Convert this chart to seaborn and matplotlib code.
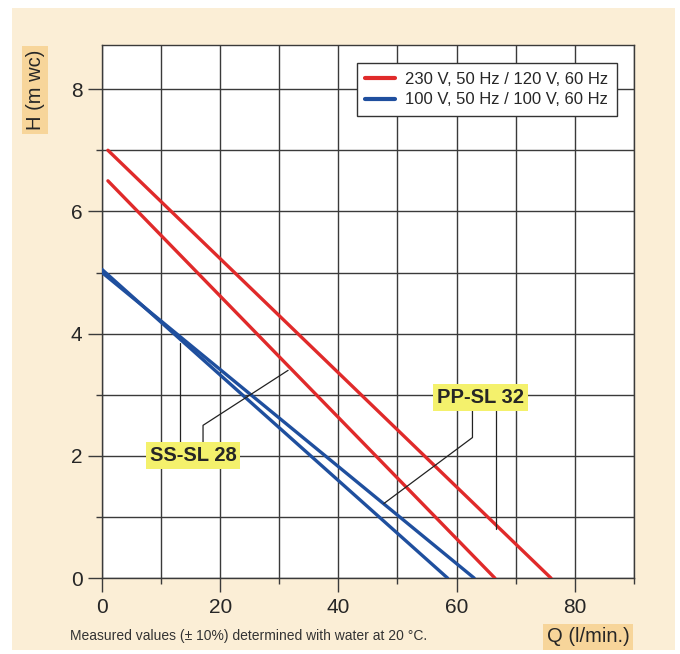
import numpy as np
import pandas as pd
import matplotlib.pyplot as plt
import matplotlib.patches as mpatches
from matplotlib.ticker import MultipleLocator
import seaborn as sns

# ── Data ─────────────────────────────────────────────────────────────────────
Q_PP_230 = [1, 76]
H_PP_230 = [7.0, 0.0]
Q_SS_230 = [1, 66.5]
H_SS_230 = [6.5, 0.0]
Q_PP_100 = [0, 63]
H_PP_100 = [5.0, 0.0]
Q_SS_100 = [0, 58.5]
H_SS_100 = [5.05, 0.0]

SUPPLY = ["230 V, 50 Hz / 120 V, 60 Hz", "100 V, 50 Hz / 100 V, 60 Hz"]
COLORS = {SUPPLY[0]: "#e02a2a", SUPPLY[1]: "#1f4f9e"}

# leader lines from the model labels to their curves
SS_LEAD_A_X = [13.2, 13.2]
SS_LEAD_A_Y = [2.15, 3.85]
SS_LEAD_B_X = [17.1, 17.1, 31.5]
SS_LEAD_B_Y = [2.15, 2.5, 3.4]
PP_LEAD_A_X = [62.7, 62.7, 47.7]
PP_LEAD_A_Y = [2.8, 2.3, 1.22]
PP_LEAD_B_X = [66.6, 66.6]
PP_LEAD_B_Y = [2.8, 0.8]

rows = []
for model, supply, qs, hs in [
    ("PP-SL 32", SUPPLY[0], Q_PP_230, H_PP_230),
    ("SS-SL 28", SUPPLY[0], Q_SS_230, H_SS_230),
    ("PP-SL 32", SUPPLY[1], Q_PP_100, H_PP_100),
    ("SS-SL 28", SUPPLY[1], Q_SS_100, H_SS_100),
]:
    for q, h in zip(qs, hs):
        rows.append({"model": model, "supply": supply, "Q": q, "H": h})
df = pd.DataFrame(rows)

# ── Style ────────────────────────────────────────────────────────────────────
sns.set_style("white")
plt.rcParams["font.family"] = ["Liberation Sans Narrow", "Liberation Sans", "DejaVu Sans"]

BEIGE  = "#fbeed6"
ORANGE = "#f7d59a"
YELLOW = "#f4f16c"
GRID   = "#3a3a3a"

fig = plt.figure(figsize=(6.8, 6.54), dpi=100, facecolor="white")
fig.patches.append(mpatches.Rectangle((0.0176, 0.006), 0.975, 0.982,
                                      transform=fig.transFigure,
                                      facecolor=BEIGE, edgecolor="none", zorder=-10))
ax = fig.add_axes([0.150, 0.116, 0.782, 0.815])
ax.set_facecolor("white")

sns.lineplot(data=df, x="Q", y="H", hue="supply", units="model", estimator=None,
             palette=COLORS, hue_order=SUPPLY, linewidth=2.4, ax=ax, zorder=3)

ax.set_xlim(0, 90)
ax.set_ylim(0, 8.72)
ax.xaxis.set_major_locator(MultipleLocator(20))
ax.xaxis.set_minor_locator(MultipleLocator(10))
ax.yaxis.set_major_locator(MultipleLocator(2))
ax.yaxis.set_minor_locator(MultipleLocator(1))
ax.grid(which="both", color=GRID, linewidth=1.0)
ax.set_axisbelow(True)
for s in ax.spines.values():
    s.set_color(GRID)
    s.set_linewidth(1.0)
ax.tick_params(which="major", length=10, width=1.0, color=GRID,
               labelsize=15, pad=4, direction="out", left=True, bottom=True)
ax.tick_params(which="minor", length=4, width=1.0, color=GRID,
               direction="out", left=True, bottom=True)
ax.set_xlabel("")
ax.set_ylabel("")

# leader lines
for xs, ys in [(SS_LEAD_A_X, SS_LEAD_A_Y), (SS_LEAD_B_X, SS_LEAD_B_Y),
               (PP_LEAD_A_X, PP_LEAD_A_Y), (PP_LEAD_B_X, PP_LEAD_B_Y)]:
    ax.plot(xs, ys, color="#222222", linewidth=0.9, zorder=4)

# model labels
ax.text(15.4, 2.0, "SS-SL 28", fontsize=14.5, fontweight="bold", ha="center", va="center",
        zorder=5, bbox=dict(boxstyle="square,pad=0.2", facecolor=YELLOW, edgecolor="none"))
ax.text(64.0, 2.95, "PP-SL 32", fontsize=14.5, fontweight="bold", ha="center", va="center",
        zorder=5, bbox=dict(boxstyle="square,pad=0.2", facecolor=YELLOW, edgecolor="none"))

# legend
leg = ax.legend(loc="upper right", bbox_to_anchor=(0.968, 0.966), borderaxespad=0,
                fontsize=12, frameon=True, fancybox=False, edgecolor="#333333",
                framealpha=1, handlelength=1.8, handletextpad=0.6, borderpad=0.5,
                labelspacing=0.35)
leg.get_frame().set_linewidth(1.0)
for line in leg.get_lines():
    line.set_linewidth(3)

# axis labels in orange boxes
fig.text(0.052, 0.862, "H (m wc)", rotation=90, fontsize=14.5, ha="center", va="center",
         bbox=dict(boxstyle="square,pad=0.18", facecolor=ORANGE, edgecolor="none"))
fig.text(0.865, 0.026, "Q (l/min.)", fontsize=14.5, ha="center", va="center",
         bbox=dict(boxstyle="square,pad=0.18", facecolor=ORANGE, edgecolor="none"))

# footnote
fig.text(0.103, 0.027, "Measured values (± 10%) determined with water at 20 °C.",
         fontsize=10, color="#333333", ha="left", va="center")

fig.savefig("out.png", dpi=100, facecolor="white")
